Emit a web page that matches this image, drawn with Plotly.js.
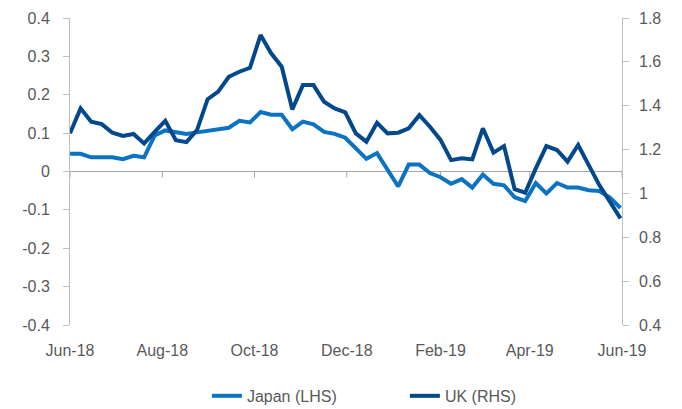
<!DOCTYPE html>
<html>
<head>
<meta charset="utf-8">
<script src="https://cdn.plot.ly/plotly-3.0.1.min.js"></script>
<style>html,body{margin:0;padding:0;background:#fff;}#chart{width:682px;height:409px;}</style>
</head>
<body>
<div id="chart"></div>
<script>
var dates = [
  "2018-06-01","2018-06-08","2018-06-15","2018-06-22","2018-06-29",
  "2018-07-06","2018-07-13","2018-07-20","2018-07-27",
  "2018-08-03","2018-08-10","2018-08-17","2018-08-24","2018-08-31",
  "2018-09-07","2018-09-14","2018-09-21","2018-09-28",
  "2018-10-05","2018-10-12","2018-10-19","2018-10-26",
  "2018-11-02","2018-11-09","2018-11-16","2018-11-23","2018-11-30",
  "2018-12-07","2018-12-14","2018-12-21","2018-12-28",
  "2019-01-04","2019-01-11","2019-01-18","2019-01-25",
  "2019-02-01","2019-02-08","2019-02-15","2019-02-22",
  "2019-03-01","2019-03-08","2019-03-15","2019-03-22","2019-03-29",
  "2019-04-05","2019-04-12","2019-04-19","2019-04-26",
  "2019-05-03","2019-05-10","2019-05-17","2019-05-24","2019-05-31"
];
var japanLHS = [
  0.046,0.046,0.037,0.036,0.037,
  0.032,0.041,0.037,0.094,
  0.107,0.102,0.098,0.102,0.106,
  0.110,0.114,0.132,0.128,
  0.155,0.148,0.148,0.110,
  0.130,0.123,0.103,0.098,0.088,
  0.062,0.033,0.048,0.003,
  -0.039,0.018,0.018,-0.004,
  -0.015,-0.032,-0.020,-0.042,
  -0.008,-0.032,-0.036,-0.067,-0.077,
  -0.030,-0.057,-0.030,-0.042,
  -0.042,-0.049,-0.051,-0.068,-0.095
];
var ukRHS = [
  1.274,1.388,1.327,1.316,1.277,
  1.262,1.271,1.228,1.281,
  1.331,1.243,1.234,1.289,1.430,
  1.464,1.532,1.555,1.573,
  1.722,1.639,1.578,1.383,
  1.494,1.494,1.418,1.388,1.370,
  1.274,1.236,1.322,1.274,
  1.277,1.297,1.357,1.304,
  1.244,1.152,1.160,1.155,
  1.297,1.186,1.216,1.019,1.003,
  1.114,1.216,1.198,1.145,
  1.221,1.130,1.038,0.962,0.886
];
var xTickVals = ["2018-06-01","2018-08-01","2018-10-01","2018-12-01","2019-02-01","2019-04-01","2019-06-01"];
var xTickText = ["Jun-18","Aug-18","Oct-18","Dec-18","Feb-19","Apr-19","Jun-19"];
var leftTickVals = [-0.4,-0.3,-0.2,-0.1,0,0.1,0.2,0.3,0.4];
var leftTickText = ["-0.4","-0.3","-0.2","-0.1","0","0.1","0.2","0.3","0.4"];
var rightTickVals = [0.4,0.6,0.8,1.0,1.2,1.4,1.6,1.8];
var rightTickText = ["0.4","0.6","0.8","1","1.2","1.4","1.6","1.8"];

var font = {family: "Liberation Sans, Arial, sans-serif", size: 16, color: "#595959"};

var traces = [
  {x: dates, y: japanLHS, name: "Japan (LHS)", type: "scatter", mode: "lines",
   xaxis: "x", yaxis: "y", line: {color: "#0B74C2", width: 4}},
  {x: dates, y: ukRHS, name: "UK (RHS)", type: "scatter", mode: "lines",
   xaxis: "x", yaxis: "y2", line: {color: "#03478C", width: 4}}
];

// small tick marks hanging below the zero line at each x tick
var shapes = xTickVals.map(function (d) {
  return {type: "line", xref: "x", yref: "y", ysizemode: "pixel", yanchor: 0,
          x0: d, x1: d, y0: 0, y1: -6, line: {color: "#a6a6a6", width: 1}, layer: "below"};
});

// right-axis tick labels, placed on the y2 scale
var annotations = rightTickVals.map(function (v, i) {
  return {xref: "paper", yref: "y2", x: 1.0272, y: v, text: rightTickText[i],
          showarrow: false, xanchor: "left", yanchor: "middle", font: font};
});

var xr = ["2018-06-01","2019-06-01"];
var layout = {
  width: 682, height: 409,
  margin: {l: 70, r: 60, t: 18, b: 84, autoexpand: false},
  paper_bgcolor: "#fff", plot_bgcolor: "#fff",
  font: font,
  showlegend: true,
  legend: {orientation: "h", x: 0.248, xanchor: "left", y: -0.231, yanchor: "middle",
           font: font, tracegroupgap: 0, entrywidth: 153, entrywidthmode: "pixels"},
  shapes: shapes,
  annotations: annotations,
  xaxis: {type: "date", range: xr, tickmode: "array", tickvals: xTickVals, ticktext: xTickText,
          showgrid: false, zeroline: false, showline: false, ticks: "",
          ticklabelstandoff: 14, tickfont: font, automargin: false},
  yaxis: {range: [-0.4, 0.4], tickmode: "array", tickvals: leftTickVals, ticktext: leftTickText,
          showgrid: false, zeroline: true, zerolinecolor: "#a6a6a6", zerolinewidth: 1,
          showline: true, linecolor: "#bfbfbf", linewidth: 1, automargin: false,
          ticks: "outside", ticklen: 6, tickcolor: "#bfbfbf", ticklabelstandoff: 10, tickfont: font},
  yaxis2: {range: [0.4, 1.8], overlaying: "y", side: "right", anchor: "x", automargin: false,
           tickmode: "array", tickvals: rightTickVals, showticklabels: false,
           showgrid: false, zeroline: false, showline: true, linecolor: "#bfbfbf", linewidth: 1,
           ticks: "outside", ticklen: 6, tickcolor: "#bfbfbf"}
};
Plotly.newPlot("chart", traces, layout, {displayModeBar: false, staticPlot: true});
</script>
</body>
</html>
